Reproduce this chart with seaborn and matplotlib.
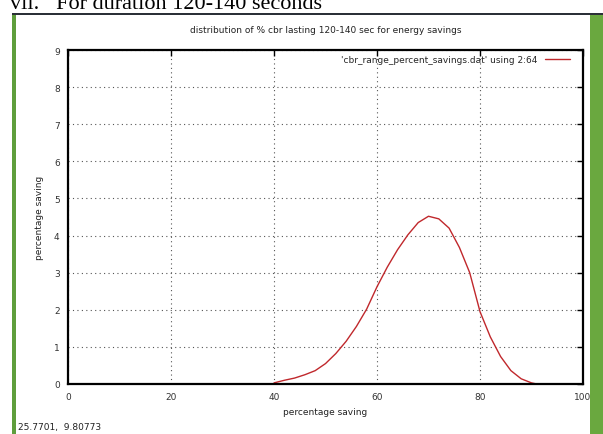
import numpy as np
import pandas as pd
import matplotlib
matplotlib.use("Agg")
import matplotlib.pyplot as plt
import seaborn as sns
from matplotlib.patches import Rectangle

# --- data ---
saving_pct = [40, 42, 44, 46, 48, 50, 52, 54, 56, 58, 60, 62, 64, 66, 68,
              70, 72, 74, 76, 78, 80, 82, 84, 86, 88, 90, 91]
pct_saving = [0.03, 0.10, 0.16, 0.25, 0.36, 0.55, 0.82, 1.15, 1.55, 2.02, 2.62,
              3.15, 3.62, 4.02, 4.35, 4.52, 4.45, 4.20, 3.68, 3.00, 1.95, 1.27,
              0.74, 0.36, 0.14, 0.03, 0.0]
x_ticks = [0, 20, 40, 60, 80, 100]
y_ticks = list(range(10))

TITLE = "distribution of % cbr lasting 120-140 sec for energy savings"
LEGEND = "'cbr_range_percent_savings.dat' using 2:64"
HEADING = "vii.   For duration 120-140 seconds"
STATUS = "25.7701,  9.80773"

df = pd.DataFrame({"x": saving_pct, "y": pct_saving})

sns.set_theme(style="white")
plt.rcParams['font.family'] = ['DejaVu Sans']

W, H = 603, 435
fig = plt.figure(figsize=(W / 100, H / 100), dpi=100)
fig.patch.set_facecolor("white")

def fx(px):
    return px / W

def fy(py):
    return 1 - py / H

# window chrome (screenshot frame)
fig.patches.append(Rectangle((fx(12), 0), fx(4), fy(14), transform=fig.transFigure,
                             facecolor="#5f9e3c", edgecolor="none", zorder=0))
fig.patches.append(Rectangle((fx(590), 0), fx(13), fy(14), transform=fig.transFigure,
                             facecolor="#6aa83f", edgecolor="none", zorder=0))
fig.patches.append(Rectangle((fx(12), fy(16)), fx(591), 2 / H, transform=fig.transFigure,
                             facecolor="#2b3038", edgecolor="none", zorder=0))
# heading of the surrounding document, partly cut off at the top like the screenshot
fig.text(fx(10), fy(9), HEADING, family="Liberation Serif", fontsize=16,
         va="baseline", ha="left", color="black")
fig.text(fx(18), fy(428), STATUS, fontsize=6.5, va="center", ha="left", color="#222222")

ax = fig.add_axes([fx(68), fy(385), fx(583) - fx(68), fy(51) - fy(385)])
sns.lineplot(data=df, x="x", y="y", ax=ax, color="#c0282c", linewidth=1.0,
             label=LEGEND)

ax.set_xlim(0, 100)
ax.set_ylim(0, 9)
ax.set_xticks(x_ticks)
ax.set_yticks(y_ticks)
ax.tick_params(direction="in", length=4, width=1, labelsize=6.5,
               top=True, right=True, pad=6, colors="black")
ax.tick_params(axis="both", labelcolor="#333333")
ax.grid(True, color="#555555", linestyle=(0, (1, 3)), linewidth=0.8)
for s in ax.spines.values():
    s.set_linewidth(1.6)
    s.set_color("black")

ax.set_title(TITLE, fontsize=6.5, pad=13, color="#222222")
ax.set_xlabel("percentage saving", fontsize=6.5, labelpad=4, color="#222222")
ax.set_ylabel("percentage saving", fontsize=6.5, labelpad=7, color="#222222")

leg = ax.legend(loc="upper right", frameon=False, fontsize=6.5, handlelength=2.8,
                borderaxespad=0.3, markerfirst=False, borderpad=0.3)
leg.set_bbox_to_anchor((0.985, 1.0), transform=ax.transAxes)

fig.savefig("out.png", dpi=100)
